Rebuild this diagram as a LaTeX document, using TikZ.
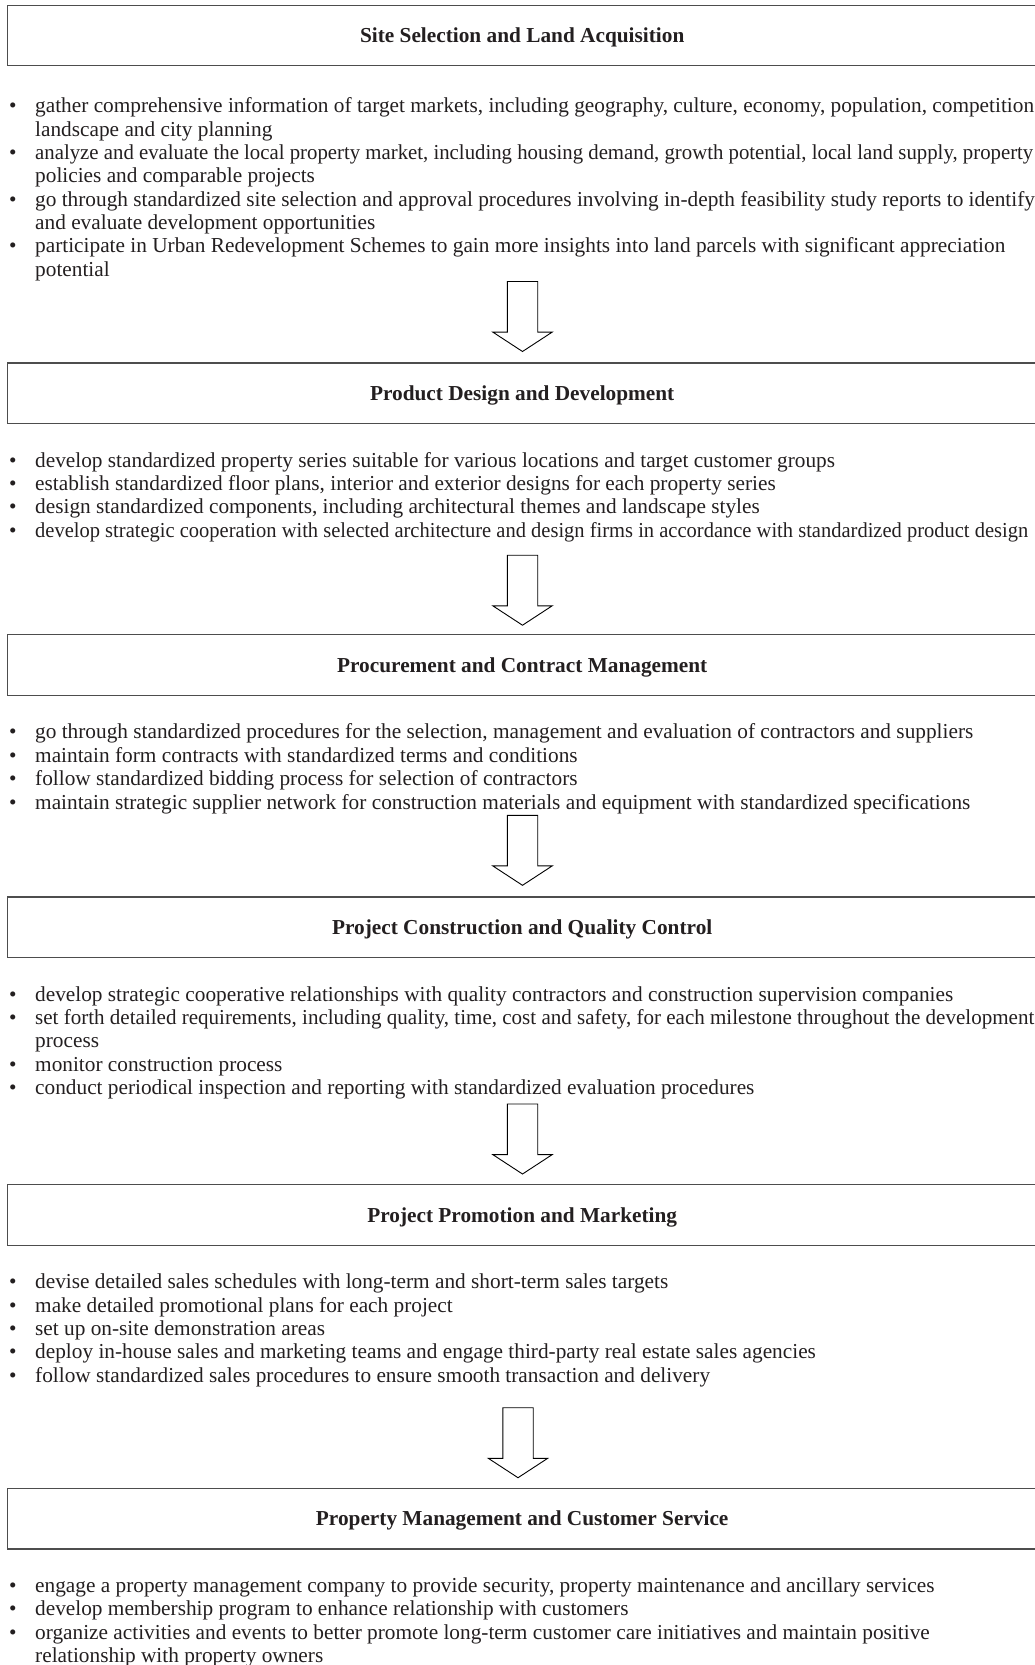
\documentclass[tikz,border=0pt]{standalone}
\usepackage{fontspec}
\usepackage{graphicx}
\setmainfont{Liberation Serif}
\definecolor{ink}{HTML}{231F20}
\definecolor{boxgray}{HTML}{4D4D4D}
\newcommand\fitline[2]{\resizebox{#1}{\height}{#2}}
\begin{document}
\begin{tikzpicture}[x=1pt,y=-1pt,
  font=\fontsize{21.3}{23.4}\selectfont,
  box/.style={draw=boxgray, line width=1.3pt, minimum width=1029.6pt, minimum height=60.5pt,
    inner sep=0pt, font=\fontsize{21.3}{23.4}\selectfont\bfseries, text=ink},
  ttl/.style={anchor=center, inner sep=0pt, text=ink, font=\fontsize{21.3}{23.4}\selectfont\bfseries},
  txt/.style={anchor=base west, inner sep=0pt, text=ink, yshift=-2pt},
  bul/.style={anchor=base west, inner sep=0pt, text=ink, yshift=-2pt},
  blockarrow/.style={draw=black, line width=0.9pt, fill=white, line join=miter}]
\useasboundingbox (0,0) rectangle (1034,1665);

% ---------- Section 1
\node[box] (s1) at (522.2,35.55) {};
\node[ttl,yshift=-2pt] (h1) at (s1.center) {Site Selection and Land Acquisition};
\node[bul] (p1a) at (9,110.6) {•};
\node[txt] (t1a) at (35,110.6) {gather comprehensive information of target markets, including geography, culture, economy, population, competition};
\node[txt] (t1b) at (35,134.0) {landscape and city planning};
\node[bul] (p1c) at (9,157.3) {•};
\node[txt] (t1c) at (35,157.3) {\fitline{998pt}{analyze and evaluate the local property market, including housing demand, growth potential, local land supply, property}};
\node[txt] (t1d) at (35,180.7) {policies and comparable projects};
\node[bul] (p1e) at (9,204.0) {•};
\node[txt] (t1e) at (35,204.0) {go through standardized site selection and approval procedures involving in-depth feasibility study reports to identify};
\node[txt] (t1f) at (35,227.4) {and evaluate development opportunities};
\node[bul] (p1g) at (9,250.7) {•};
\node[txt] (t1g) at (35,250.7) {participate in Urban Redevelopment Schemes to gain more insights into land parcels with significant appreciation};
\node[txt] (t1h) at (35,274.1) {potential};

\coordinate (a1) at (522.5,281.5);
\draw[blockarrow] (a1) ++(-15.2,0) -- ++(0,50.6) -- ++(-14.5,0) -- ++(29.7,19.4) -- ++(29.7,-19.4) -- ++(-14.5,0) -- ++(0,-50.6) -- cycle;

% ---------- Section 2
\node[box] (s2) at (522.2,393.35) {};
\node[ttl,yshift=-2pt] (h2) at (s2.center) {Product Design and Development};
\node[bul] (p2a) at (9,465.2) {•};
\node[txt] (t2a) at (35,465.2) {develop standardized property series suitable for various locations and target customer groups};
\node[bul] (p2b) at (9,488.5) {•};
\node[txt] (t2b) at (35,488.5) {establish standardized floor plans, interior and exterior designs for each property series};
\node[bul] (p2c) at (9,511.9) {•};
\node[txt] (t2c) at (35,511.9) {design standardized components, including architectural themes and landscape styles};
\node[bul] (p2d) at (9,535.2) {•};
\node[txt] (t2d) at (35,535.2) {\fitline{993pt}{develop strategic cooperation with selected architecture and design firms in accordance with standardized product design}};

\coordinate (a2) at (522.5,555.2);
\draw[blockarrow] (a2) ++(-15.2,0) -- ++(0,50.6) -- ++(-14.5,0) -- ++(29.7,19.4) -- ++(29.7,-19.4) -- ++(-14.5,0) -- ++(0,-50.6) -- cycle;

% ---------- Section 3
\node[box] (s3) at (522.2,665.05) {};
\node[ttl,yshift=-2pt] (h3) at (s3.center) {Procurement and Contract Management};
\node[bul] (p3a) at (9,736.9) {•};
\node[txt] (t3a) at (35,736.9) {go through standardized procedures for the selection, management and evaluation of contractors and suppliers};
\node[bul] (p3b) at (9,760.3) {•};
\node[txt] (t3b) at (35,760.3) {maintain form contracts with standardized terms and conditions};
\node[bul] (p3c) at (9,783.6) {•};
\node[txt] (t3c) at (35,783.6) {follow standardized bidding process for selection of contractors};
\node[bul] (p3d) at (9,807.0) {•};
\node[txt] (t3d) at (35,807.0) {maintain strategic supplier network for construction materials and equipment with standardized specifications};

\coordinate (a3) at (522.5,815.3);
\draw[blockarrow] (a3) ++(-15.2,0) -- ++(0,50.6) -- ++(-14.5,0) -- ++(29.7,19.4) -- ++(29.7,-19.4) -- ++(-14.5,0) -- ++(0,-50.6) -- cycle;

% ---------- Section 4
\node[box] (s4) at (522.2,927.3) {};
\node[ttl,yshift=-2pt] (h4) at (s4.center) {Project Construction and Quality Control};
\node[bul] (p4a) at (9,999.2) {•};
\node[txt] (t4a) at (35,999.2) {develop strategic cooperative relationships with quality contractors and construction supervision companies};
\node[bul] (p4b) at (9,1022.5) {•};
\node[txt] (t4b) at (35,1022.5) {\fitline{999pt}{set forth detailed requirements, including quality, time, cost and safety, for each milestone throughout the development}};
\node[txt] (t4c) at (35,1045.8) {process};
\node[bul] (p4d) at (9,1069.2) {•};
\node[txt] (t4d) at (35,1069.2) {monitor construction process};
\node[bul] (p4e) at (9,1092.5) {•};
\node[txt] (t4e) at (35,1092.5) {conduct periodical inspection and reporting with standardized evaluation procedures};

\coordinate (a4) at (522.5,1104.0);
\draw[blockarrow] (a4) ++(-15.2,0) -- ++(0,50.6) -- ++(-14.5,0) -- ++(29.7,19.4) -- ++(29.7,-19.4) -- ++(-14.5,0) -- ++(0,-50.6) -- cycle;

% ---------- Section 5
\node[box] (s5) at (522.2,1215.05) {};
\node[ttl,yshift=-2pt] (h5) at (s5.center) {Project Promotion and Marketing};
\node[bul] (p5a) at (9,1286.9) {•};
\node[txt] (t5a) at (35,1286.9) {devise detailed sales schedules with long-term and short-term sales targets};
\node[bul] (p5b) at (9,1310.2) {•};
\node[txt] (t5b) at (35,1310.2) {make detailed promotional plans for each project};
\node[bul] (p5c) at (9,1333.5) {•};
\node[txt] (t5c) at (35,1333.5) {set up on-site demonstration areas};
\node[bul] (p5d) at (9,1356.9) {•};
\node[txt] (t5d) at (35,1356.9) {deploy in-house sales and marketing teams and engage third-party real estate sales agencies};
\node[bul] (p5e) at (9,1380.3) {•};
\node[txt] (t5e) at (35,1380.3) {follow standardized sales procedures to ensure smooth transaction and delivery};

\coordinate (a5) at (518,1407.7);
\draw[blockarrow] (a5) ++(-15.2,0) -- ++(0,50.6) -- ++(-14.5,0) -- ++(29.7,19.4) -- ++(29.7,-19.4) -- ++(-14.5,0) -- ++(0,-50.6) -- cycle;

% ---------- Section 6
\node[box] (s6) at (522.2,1518.65) {};
\node[ttl,yshift=-2pt] (h6) at (s6.center) {Property Management and Customer Service};
\node[bul] (p6a) at (9,1590.5) {•};
\node[txt] (t6a) at (35,1590.5) {engage a property management company to provide security, property maintenance and ancillary services};
\node[bul] (p6b) at (9,1613.9) {•};
\node[txt] (t6b) at (35,1613.9) {develop membership program to enhance relationship with customers};
\node[bul] (p6c) at (9,1637.2) {•};
\node[txt] (t6c) at (35,1637.2) {organize activities and events to better promote long-term customer care initiatives and maintain positive};
\node[txt] (t6d) at (35,1660.5) {relationship with property owners};
\end{tikzpicture}
\end{document}
